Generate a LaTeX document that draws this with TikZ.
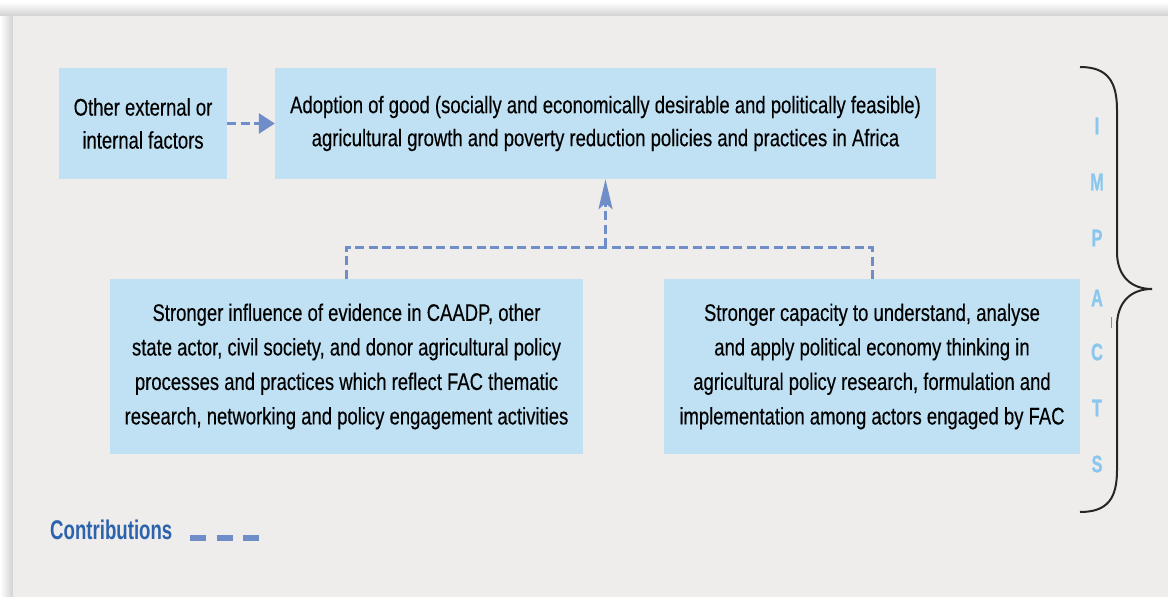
\documentclass[tikz,border=0pt]{standalone}
\usepackage{fontspec}
\setmainfont{Liberation Sans}[FakeStretch=0.76]
\newfontfamily\boxfont{Liberation Sans}[FakeStretch=0.77, FakeBold=0.3]
\newfontfamily\impfont{Liberation Sans}[FakeStretch=0.68, FakeBold=0.8]
\newfontfamily\contfont{Liberation Sans}[FakeStretch=0.69]
\usetikzlibrary{arrows.meta}
\definecolor{panel}{HTML}{EEEDEB}
\definecolor{boxfill}{HTML}{BFE1F3}
\definecolor{dashc}{HTML}{6F8EC9}
\definecolor{impc}{HTML}{8AC7EE}
\definecolor{contc}{HTML}{2C63AD}
\begin{document}
\begin{tikzpicture}[x=1pt,y=1pt,
  box/.style={fill=boxfill, draw=none, inner sep=0pt, align=center, text=black},
  smallbox/.style={box, font=\boxfont\fontsize{24}{33}\selectfont},
  bigbox/.style={box, font=\boxfont\fontsize{24}{34.5}\selectfont},
  conn/.style={draw=dashc, line width=3pt, dash pattern=on 9pt off 4.5pt},
  impl/.style={text=impc, inner sep=0pt, font=\impfont\bfseries\fontsize{24}{24}\selectfont},
  bracepath/.style={draw=black!85, line width=2pt}]
\useasboundingbox (0,0) rectangle (1168,-597);
\fill[white] (0,0) rectangle (1168,-597);
\shade[top color=white, bottom color=black!18] (0,-2) rectangle (1168,-16);
\shade[left color=white, right color=black!18] (0,-16) rectangle (13,-597);
\fill[panel] (13,-16) rectangle (1168,-597);

\node[smallbox, minimum width=168, minimum height=111] (ext) at (143,-123.5)
  {Other external or\\internal factors};
\node[smallbox, minimum width=661, minimum height=111] (adopt) at (605.5,-123.5)
  {Adoption of good (socially and economically desirable and politically feasible)\\agricultural growth and poverty reduction policies and practices in Africa};
\node[bigbox, minimum width=473, minimum height=175] (infl) at (346.5,-366.5)
  {Stronger influence of evidence in CAADP, other\\state actor, civil society, and donor agricultural policy\\processes and practices which reflect FAC thematic\\research, networking and policy engagement activities};
\node[bigbox, minimum width=416, minimum height=175] (cap) at (872,-366.5)
  {Stronger capacity to understand, analyse\\and apply political economy thinking in\\agricultural policy research, formulation and\\implementation among actors engaged by FAC};

\draw[conn, -{Triangle[length=16pt,width=20pt]}] (ext) -- (adopt);
\coordinate (j) at (adopt.south |- 0,-247);
\draw[conn] (infl.north) |- (j) -| (cap.north);
\draw[conn, -{Stealth[length=30pt,width=14pt,inset=6pt]}] (j) -- (adopt.south);

\node[impl] (i1) at (1097,-126) {I};
\node[impl] (i2) at (1097,-182) {M};
\node[impl] (i3) at (1097,-238) {P};
\node[impl] (i4) at (1097,-298) {A};
\node[impl] (i5) at (1097,-352) {C};
\node[impl] (i6) at (1097,-408) {T};
\node[impl] (i7) at (1097,-464) {S};

\draw[bracepath] (1080,-67) .. controls (1108,-67) and (1117,-82) .. (1117,-110)
  -- (1117,-252) .. controls (1117,-275) and (1130,-289) .. (1152,-289)
  .. controls (1130,-289) and (1117,-303) .. (1117,-326)
  -- (1117,-470) .. controls (1117,-498) and (1108,-512) .. (1080,-512);
\draw[black!45, line width=1pt] (1111,-317) -- (1111,-328);

\node[anchor=west, text=contc, inner sep=0pt, font=\contfont\bfseries\fontsize{27}{27}\selectfont] (contrib) at (50,-530) {Contributions};
\coordinate (l1) at (190,-538);
\coordinate (l2) at (260,-538);
\draw[dashc, line width=6pt, dash pattern=on 16pt off 10.5pt] (l1) -- (l2);
\end{tikzpicture}
\end{document}
